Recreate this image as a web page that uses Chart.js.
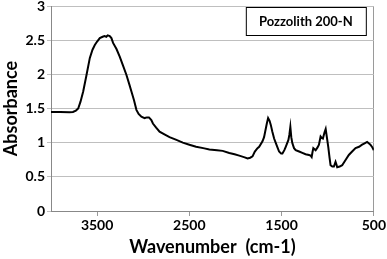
<!DOCTYPE html>
<html>
<head>
<meta charset="utf-8">
<script src="https://cdn.jsdelivr.net/npm/chart.js@4"></script>
<style>
  html, body { margin: 0; padding: 0; background: #fff; }
  #wrap { width: 387px; height: 259px; }
</style>
</head>
<body>
<div id="wrap"><canvas id="chart"></canvas></div>
<script>
const wavenumber = [
  4000, 3900, 3800, 3762, 3730, 3705, 3680, 3651, 3615, 3579, 3550, 3525, 3500, 3471,
  3440, 3420, 3400, 3385, 3363, 3345, 3327, 3290, 3255, 3220, 3182, 3150, 3128, 3100,
  3074, 3050, 3020, 2985, 2960, 2938, 2912, 2895, 2860, 2823, 2770, 2715, 2640, 2571,
  2500, 2427, 2350, 2283, 2200, 2139, 2067, 2010, 1959, 1900, 1869, 1840, 1815, 1790,
  1761, 1743, 1707, 1690, 1678, 1660, 1646, 1630, 1617, 1600, 1581, 1550, 1527, 1505,
  1491, 1470, 1455, 1426, 1415, 1405, 1395, 1383, 1365, 1347, 1310, 1275, 1240, 1203,
  1185, 1174, 1165, 1156, 1140, 1131, 1110, 1095, 1077, 1065, 1052, 1035, 1022, 1008,
  994, 980, 969, 950, 933, 915, 905, 897, 870, 843, 810, 771, 735, 698,
  660, 627, 600, 573, 555, 537, 515, 500
];
const absorbance = [
  1.45, 1.45, 1.445, 1.45, 1.47, 1.50, 1.60, 1.75, 1.99, 2.24, 2.36, 2.43, 2.48, 2.53,
  2.55, 2.56, 2.55, 2.57, 2.56, 2.53, 2.46, 2.37, 2.26, 2.13, 1.99, 1.85, 1.75, 1.62,
  1.48, 1.42, 1.38, 1.36, 1.37, 1.37, 1.33, 1.28, 1.22, 1.16, 1.12, 1.08, 1.04, 1.00,
  0.97, 0.94, 0.92, 0.90, 0.89, 0.88, 0.85, 0.83, 0.81, 0.785, 0.77, 0.78, 0.80, 0.87,
  0.92, 0.94, 1.02, 1.08, 1.16, 1.28, 1.36, 1.32, 1.26, 1.16, 1.06, 0.95, 0.87, 0.84,
  0.84, 0.89, 0.94, 1.04, 1.12, 1.23, 1.08, 0.99, 0.92, 0.89, 0.87, 0.85, 0.83, 0.82,
  0.81, 0.79, 0.86, 0.92, 0.90, 0.89, 0.93, 0.97, 1.09, 1.07, 1.06, 1.15, 1.20, 1.07,
  0.94, 0.78, 0.67, 0.65, 0.65, 0.72, 0.68, 0.64, 0.65, 0.67, 0.74, 0.82, 0.87, 0.92,
  0.94, 0.97, 0.99, 1.01, 0.99, 0.97, 0.93, 0.89
];
const xTicks = [3500, 2500, 1500, 500];
const seriesName = 'Pozzolith 200-N';

const font = 'Lato';

// boxed label in the top right corner
const boxLabel = {
  id: 'boxLabel',
  afterDraw(chart) {
    const c = chart.ctx;
    const area = chart.chartArea;
    c.save();
    c.font = 'bold 13px ' + font;
    const w = 120, h = 28;
    const x = area.right - 8 - w, y = area.top + 1;
    c.fillStyle = '#fff';
    c.fillRect(x, y, w, h);
    c.strokeStyle = '#000';
    c.lineWidth = 1;
    c.strokeRect(x + 0.5, y + 0.5, w, h);
    c.fillStyle = '#000';
    c.textAlign = 'center';
    c.textBaseline = 'middle';
    c.fillText(seriesName, x + w / 2, y + h / 2 + 1);
    c.restore();
  }
};

const ctx = document.getElementById('chart');

new Chart(ctx, {
  type: 'line',
  data: {
    datasets: [{
      label: seriesName,
      data: wavenumber.map((x, i) => ({ x: x, y: absorbance[i] })),
      borderColor: '#000',
      borderWidth: 2,
      pointRadius: 0,
      tension: 0,
      fill: false
    }]
  },
  options: {
    responsive: true,
    maintainAspectRatio: false,
    animation: false,
    layout: { padding: { top: 0, right: 12, left: 0, bottom: 0 } },
    plugins: {
      legend: { display: false },
      tooltip: { enabled: false }
    },
    scales: {
      x: {
        type: 'linear',
        reverse: true,
        min: 500,
        max: 4000,
        afterBuildTicks: s => { s.ticks = xTicks.map(v => ({ value: v })); },
        afterFit: s => { s.height = 48; },
        ticks: {
          color: '#000',
          font: { family: font, size: 14, weight: 'bold' },
          padding: 1,
          maxRotation: 0,
          autoSkip: false,
          callback: v => String(v)
        },
        grid: {
          color: c => (c.tick && c.tick.value === 500) ? '#9a9a9a' : 'transparent',
          tickColor: '#9a9a9a',
          tickLength: 5
        },
        border: { color: '#888', width: 1 },
        title: {
          display: true,
          text: 'Wavenumber  (cm-1)',
          color: '#000',
          font: { family: font, size: 18, weight: 'bold' },
          padding: { top: 0, bottom: 1 }
        }
      },
      y: {
        min: 0,
        max: 3,
        afterFit: s => { s.width = 51; s.paddingTop = 6; },
        ticks: {
          stepSize: 0.5,
          color: '#000',
          font: { family: font, size: 14, weight: 'bold' },
          padding: 2,
          callback: v => String(v)
        },
        grid: { color: '#bfbfbf', tickLength: 4 },
        border: { color: '#888', width: 1 },
        title: {
          display: true,
          text: 'Absorbance',
          color: '#000',
          font: { family: font, size: 18, weight: 'bold' },
          padding: { top: 0, bottom: 0 }
        }
      }
    }
  },
  plugins: [boxLabel]
});
</script>
</body>
</html>
